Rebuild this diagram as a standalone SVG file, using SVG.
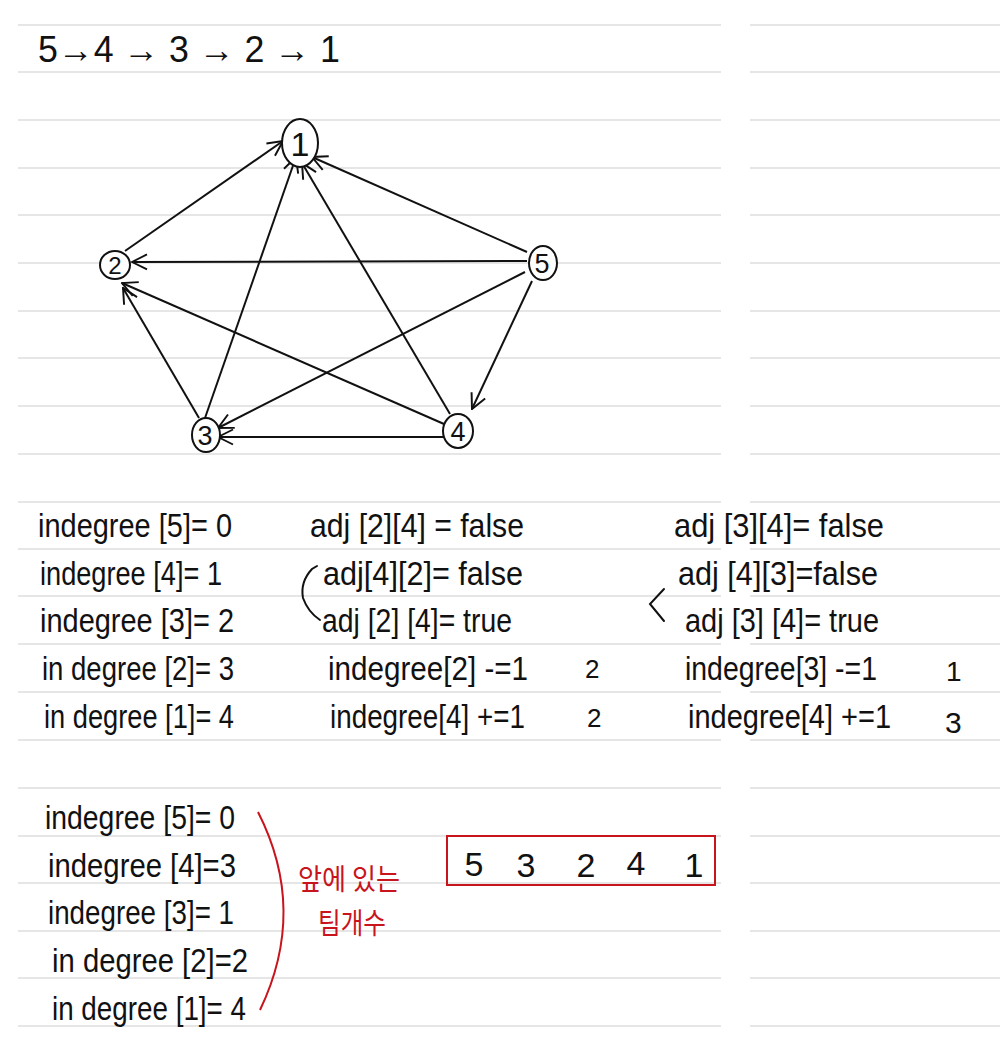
<svg xmlns="http://www.w3.org/2000/svg" width="1000" height="1057" viewBox="0 0 1000 1057">
<defs>
<style>
.rule{stroke:#dedede;stroke-width:1.5}
.t{font-family:"Liberation Sans","Noto Sans CJK KR",sans-serif;fill:#111;font-size:34px}
.n{font-family:"Liberation Sans",sans-serif;fill:#111;text-anchor:middle}
.node{fill:#fff;stroke:#111;stroke-width:2}
.edge{stroke:#111;stroke-width:2;fill:none;marker-end:url(#ah)}
.red{font-family:"Noto Sans CJK KR",sans-serif;fill:#c8141c;font-size:29px}
.ink{stroke:#111;stroke-width:2;fill:none;stroke-linecap:round}
</style>
<marker id="ah" viewBox="0 0 12 12" refX="11" refY="6" markerWidth="18" markerHeight="18" markerUnits="userSpaceOnUse" orient="auto">
<path d="M1,1 L11,6 L1,11" fill="none" stroke="#111" stroke-width="1.3"/>
</marker>
</defs>
<rect width="1000" height="1057" fill="#fff"/>
<g id="rules">
<path class="rule" d="M18,25H721M750,25H1000M18,72H721M750,72H1000M18,120H721M750,120H1000M18,168H721M750,168H1000M18,215H721M750,215H1000M18,263H721M750,263H1000M18,311H721M750,311H1000M18,358H721M750,358H1000M18,406H721M750,406H1000M18,454H721M750,454H1000M18,502H721M750,502H1000M18,549H721M750,549H1000M18,596H721M750,596H1000M18,644H721M750,644H1000M18,692H721M750,692H1000M18,740H721M750,740H1000M18,788H721M750,788H1000M18,836H721M750,836H1000M18,883H721M750,883H1000M18,931H721M750,931H1000M18,978H721M750,978H1000M18,1026H721M750,1026H1000"/>
</g>
<text class="t" x="38" y="62" style="font-size:36px" textLength="302" lengthAdjust="spacingAndGlyphs">5→4 → 3 → 2 → 1</text>
<g id="connectors">
<line class="edge" x1="125" y1="251" x2="283" y2="141"/>
<line class="edge" x1="205" y1="418" x2="296" y2="157"/>
<line class="edge" x1="450" y1="414" x2="302" y2="163"/>
<line class="edge" x1="527" y1="252" x2="312" y2="157"/>
<line class="edge" x1="527" y1="261" x2="132" y2="262"/>
<line class="edge" x1="525" y1="272" x2="218" y2="428"/>
<line class="edge" x1="532" y1="281" x2="472" y2="409"/>
<line class="edge" x1="444" y1="424" x2="122" y2="283"/>
<line class="edge" x1="199" y1="418" x2="123" y2="288"/>
<line class="edge" x1="444" y1="437" x2="218" y2="437"/>
</g>
<g id="node1"><ellipse class="node" cx="300" cy="143" rx="18" ry="24"/><text class="n" x="300" y="156" style="font-size:34px">1</text></g>
<g id="node2"><ellipse class="node" cx="115" cy="265" rx="15" ry="14"/><text class="n" x="115" y="274" style="font-size:24px">2</text></g>
<g id="node5"><ellipse class="node" cx="543" cy="263" rx="14" ry="17"/><text class="n" x="542" y="273" style="font-size:27px">5</text></g>
<g id="node3"><ellipse class="node" cx="206" cy="435" rx="14" ry="17"/><text class="n" x="205" y="445" style="font-size:27px">3</text></g>
<g id="node4"><ellipse class="node" cx="458" cy="431" rx="15" ry="17"/><text class="n" x="458" y="441" style="font-size:27px">4</text></g>

<g id="left-col">
<text class="t" x="38" y="537" textLength="194" lengthAdjust="spacingAndGlyphs">indegree [5]= 0</text>
<text class="t" x="40" y="585" textLength="182" lengthAdjust="spacingAndGlyphs">indegree [4]= 1</text>
<text class="t" x="40" y="632" textLength="194" lengthAdjust="spacingAndGlyphs">indegree [3]= 2</text>
<text class="t" x="42" y="680" textLength="192" lengthAdjust="spacingAndGlyphs">in degree [2]= 3</text>
<text class="t" x="44" y="728" textLength="190" lengthAdjust="spacingAndGlyphs">in degree [1]= 4</text>
</g>
<g id="mid-col">
<text class="t" x="310" y="537" textLength="214" lengthAdjust="spacingAndGlyphs">adj [2][4] = false</text>
<text class="t" x="323" y="585" textLength="200" lengthAdjust="spacingAndGlyphs">adj[4][2]= false</text>
<text class="t" x="322" y="632" textLength="190" lengthAdjust="spacingAndGlyphs">adj [2] [4]= true</text>
<text class="t" x="328" y="680" textLength="200" lengthAdjust="spacingAndGlyphs">indegree[2] -=1</text>
<text class="t" x="330" y="728" textLength="195" lengthAdjust="spacingAndGlyphs">indegree[4] +=1</text>
<path class="ink" d="M317,566 L312,569 Q300,582 303,598 Q308,612 320,620"/>
<text class="t" x="585" y="678" style="font-size:26px">2</text>
<text class="t" x="587" y="727" style="font-size:26px">2</text>
</g>
<g id="right-col">
<text class="t" x="674" y="537" textLength="210" lengthAdjust="spacingAndGlyphs">adj [3][4]= false</text>
<text class="t" x="678" y="585" textLength="200" lengthAdjust="spacingAndGlyphs">adj [4][3]=false</text>
<text class="t" x="685" y="632" textLength="194" lengthAdjust="spacingAndGlyphs">adj [3] [4]= true</text>
<text class="t" x="685" y="680" textLength="192" lengthAdjust="spacingAndGlyphs">indegree[3] -=1</text>
<text class="t" x="688" y="728" textLength="203" lengthAdjust="spacingAndGlyphs">indegree[4] +=1</text>
<path class="ink" d="M664,589 L650,604 L664,621"/>
<text class="t" x="946" y="681" style="font-size:28px">1</text>
<text class="t" x="945" y="733" style="font-size:30px">3</text>
</g>
<g id="bottom-col">
<text class="t" x="45" y="829" textLength="190" lengthAdjust="spacingAndGlyphs">indegree [5]= 0</text>
<text class="t" x="48" y="877" textLength="188" lengthAdjust="spacingAndGlyphs">indegree [4]=3</text>
<text class="t" x="48" y="924" textLength="186" lengthAdjust="spacingAndGlyphs">indegree [3]= 1</text>
<text class="t" x="52" y="972" textLength="196" lengthAdjust="spacingAndGlyphs">in degree [2]=2</text>
<text class="t" x="52" y="1020" textLength="194" lengthAdjust="spacingAndGlyphs">in degree [1]= 4</text>
</g>
<g id="note">
<path d="M258,812 Q308,910 260,1010" fill="none" stroke="#c8141c" stroke-width="2"/>
<text class="red" x="298" y="890" textLength="102" lengthAdjust="spacingAndGlyphs">앞에 있는</text>
<text class="red" x="318" y="934" textLength="68" lengthAdjust="spacingAndGlyphs">팀개수</text>
</g>
<g id="result">
<rect x="447" y="836" width="268" height="49" fill="none" stroke="#c8141c" stroke-width="2"/>
<text class="n" x="474" y="876" style="font-size:34px">5</text>
<text class="n" x="526" y="877" style="font-size:34px">3</text>
<text class="n" x="586" y="877" style="font-size:34px">2</text>
<text class="n" x="636" y="875" style="font-size:34px">4</text>
<text class="n" x="694" y="877" style="font-size:34px">1</text>
</g>
</svg>
